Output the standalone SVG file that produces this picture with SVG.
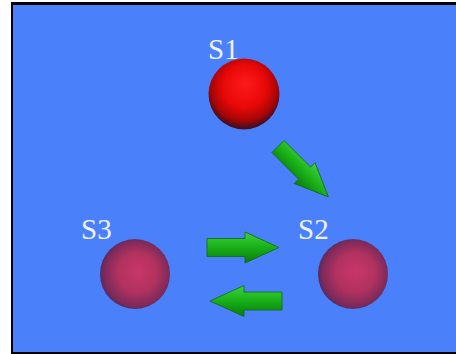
<svg xmlns="http://www.w3.org/2000/svg" width="456" height="354" viewBox="0 0 456 354">
<defs>
<radialGradient id="gRed" cx="0.5" cy="0.42" r="0.55" fx="0.52" fy="0.35">
<stop offset="0" stop-color="#ff1a1a"/>
<stop offset="0.55" stop-color="#e80808"/>
<stop offset="0.85" stop-color="#a80505"/>
<stop offset="1" stop-color="#4a0d20"/>
</radialGradient>
<radialGradient id="gPink" cx="0.52" cy="0.5" r="0.55" fx="0.55" fy="0.45">
<stop offset="0" stop-color="#c83668"/>
<stop offset="0.5" stop-color="#b2325f"/>
<stop offset="0.85" stop-color="#7c2a5a"/>
<stop offset="1" stop-color="#3e2a66"/>
</radialGradient>
<linearGradient id="gGreen" x1="0" y1="0" x2="0" y2="1">
<stop offset="0" stop-color="#3ed23e"/>
<stop offset="0.5" stop-color="#18b018"/>
<stop offset="1" stop-color="#0a7a0a"/>
</linearGradient>
<path id="arrowR" d="M0,-9 L38,-9 L38,-15.5 L72,0 L38,15.5 L38,9 L0,9 Z"/>
</defs>
<style>
.conn use { fill: url(#gGreen); stroke: #0c6a0c; stroke-width: 0.8; }
.lbl { font-family: "Liberation Serif", "Times New Roman", serif; font-size: 29px; fill: #eef2fa; }
</style>
<rect x="0" y="0" width="456" height="354" fill="#ffffff"/>
<rect x="11" y="2" width="445" height="352" fill="#000000"/>
<rect x="13" y="5" width="443" height="347" fill="#4b80fb"/>
<g id="S1">
<circle cx="244" cy="94" r="35.5" fill="url(#gRed)"/>
<text class="lbl" x="208" y="59">S1</text>
</g>
<g id="S2">
<circle cx="353" cy="274" r="35" fill="url(#gPink)"/>
<text class="lbl" x="298" y="239">S2</text>
</g>
<g id="S3">
<circle cx="135" cy="274" r="35" fill="url(#gPink)"/>
<text class="lbl" x="81" y="239">S3</text>
</g>
<g id="connectors" class="conn">
<use href="#arrowR" transform="translate(278,146.5) rotate(45) scale(0.99,0.95)"/>
<use href="#arrowR" transform="translate(207,247.5)"/>
<use href="#arrowR" transform="translate(282,301) scale(-1,1)"/>
</g>
</svg>
